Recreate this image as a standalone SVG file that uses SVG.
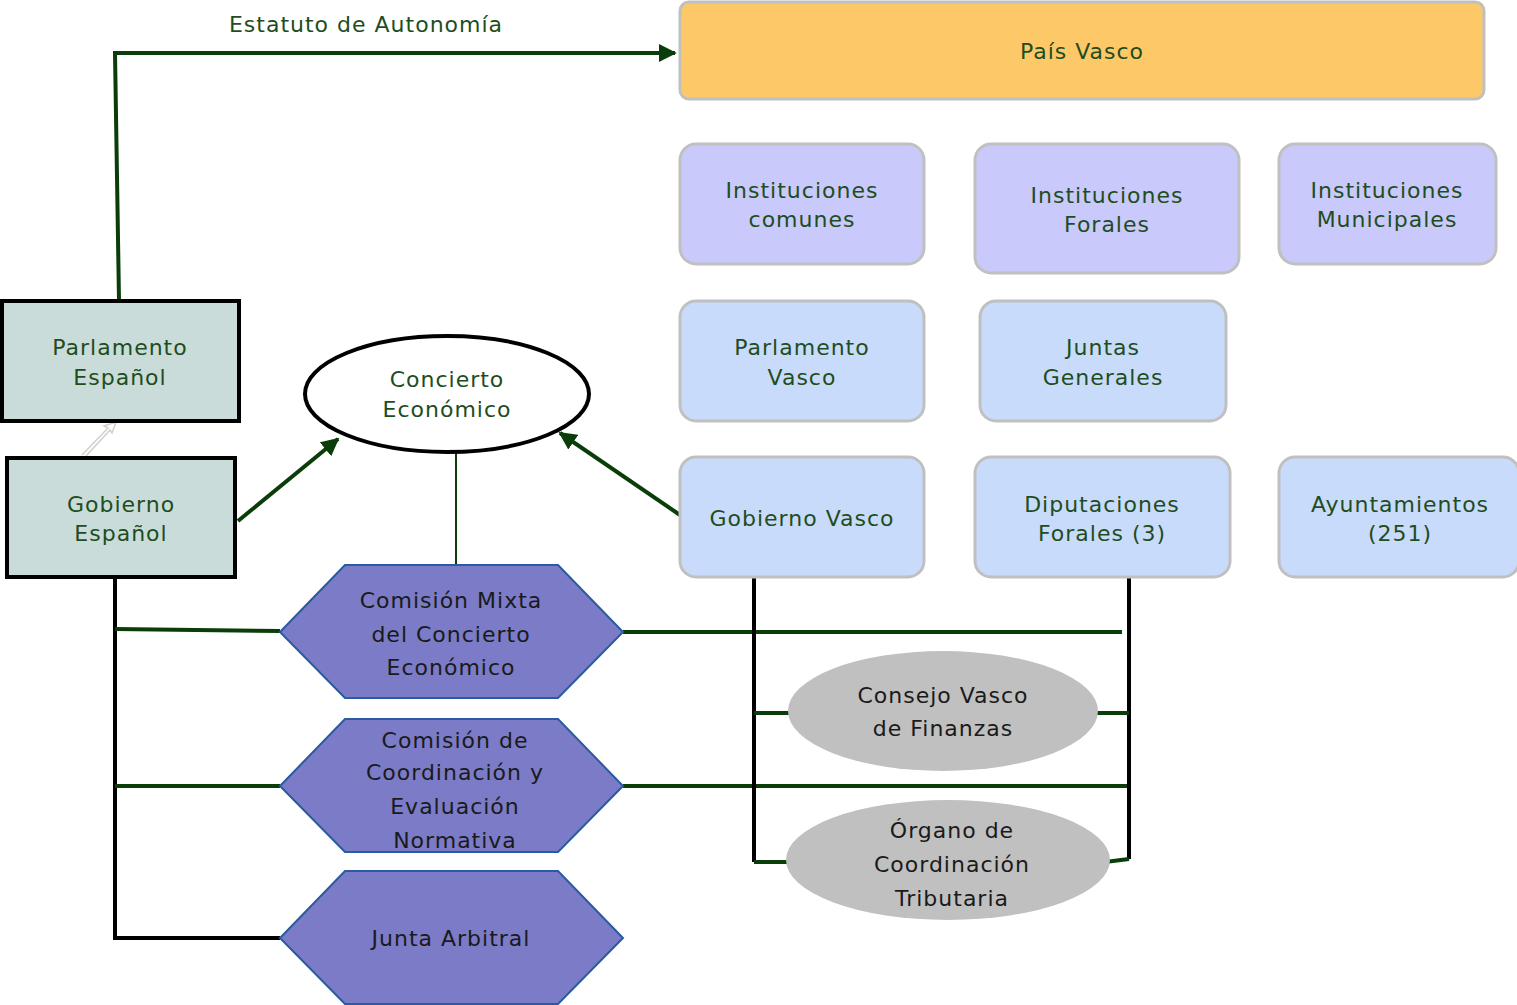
<svg xmlns="http://www.w3.org/2000/svg" width="1517" height="1005" viewBox="0 0 1517 1005">
<defs>
<style>
text{font-family:"DejaVu Sans","Liberation Sans",sans-serif;font-size:22px;letter-spacing:1px;text-anchor:middle;dominant-baseline:central;}
.g{fill:#1e4d1e;}
.k{fill:#1a1a1a;}
.inst{fill:#c9c9fb;stroke:#c0c0c0;stroke-width:3;}
.org{fill:#c9dbfb;stroke:#c0c0c0;stroke-width:3;}
.esp{fill:#c9dcd9;stroke:#000;stroke-width:4;}
.hex{fill:#7b7bc7;stroke:#2a5aa0;stroke-width:2;}
.gray{fill:#c0c0c0;}
.gl{stroke:#0b3d0b;stroke-width:4;fill:none;}
.bl{stroke:#000;stroke-width:4;fill:none;}
</style>
<marker id="ah" viewBox="0 0 10 10" refX="9" refY="5" markerWidth="4.5" markerHeight="4.5" orient="auto" markerUnits="strokeWidth">
<path d="M0,0 L10,5 L0,10 z" fill="#0b3d0b"/>
</marker>
</defs>
<rect width="1517" height="1005" fill="#fff"/>
<g id="connectors">
<polyline class="gl" points="119,300 115,53 675,53" marker-end="url(#ah)"/>
<path d="M82,455 L108,428 L104,426 L116,422 L112,433 L110,430 L86,456" fill="#fff" stroke="#d0d0d0" stroke-width="1.5"/>
<line class="gl" x1="238" y1="521" x2="338" y2="439" marker-end="url(#ah)"/>
<line class="gl" x1="680" y1="515" x2="560" y2="433" marker-end="url(#ah)"/>
<line x1="456" y1="452" x2="456" y2="566" stroke="#0b3d0b" stroke-width="2"/>
<polyline class="bl" points="115,577 115,938 280,938"/>
<line class="gl" x1="115" y1="629" x2="280" y2="631"/>
<line class="gl" x1="115" y1="786" x2="280" y2="786"/>
<line class="gl" x1="623" y1="632" x2="1122" y2="632"/>
<line class="gl" x1="623" y1="786" x2="1130" y2="786"/>
<polyline class="bl" points="754,577 754,862"/>
<line class="gl" x1="754" y1="713" x2="791" y2="713"/>
<line class="gl" x1="754" y1="862" x2="791" y2="862"/>
<polyline class="bl" points="1129,577 1129,859"/>
<line class="gl" x1="1089" y1="713" x2="1129" y2="713"/>
<line class="gl" x1="1105" y1="862" x2="1129" y2="859"/>
</g>
<text class="g" x="366" y="24">Estatuto de Autonomía</text>
<g id="pais-vasco"><rect x="680" y="2" width="804" height="97" rx="9" fill="#fdc968" stroke="#c0c0c0" stroke-width="3"/><text class="g" x="1082" y="51">País Vasco</text></g>
<g id="inst-comunes"><rect class="inst" x="680" y="144" width="244" height="120" rx="16"/><text class="g" x="802" y="190">Instituciones</text><text class="g" x="802" y="219">comunes</text></g>
<g id="inst-forales"><rect class="inst" x="975" y="144" width="264" height="129" rx="16"/><text class="g" x="1107" y="195">Instituciones</text><text class="g" x="1107" y="224">Forales</text></g>
<g id="inst-municipales"><rect class="inst" x="1279" y="144" width="217" height="120" rx="16"/><text class="g" x="1387" y="190">Instituciones</text><text class="g" x="1387" y="219">Municipales</text></g>
<g id="parlamento-vasco"><rect class="org" x="680" y="301" width="244" height="120" rx="16"/><text class="g" x="802" y="347">Parlamento</text><text class="g" x="802" y="377">Vasco</text></g>
<g id="juntas-generales"><rect class="org" x="980" y="301" width="246" height="120" rx="16"/><text class="g" x="1103" y="347">Juntas</text><text class="g" x="1103" y="377">Generales</text></g>
<g id="gobierno-vasco"><rect class="org" x="680" y="457" width="244" height="120" rx="16"/><text class="g" x="802" y="518">Gobierno Vasco</text></g>
<g id="diputaciones"><rect class="org" x="975" y="457" width="255" height="120" rx="16"/><text class="g" x="1102" y="504">Diputaciones</text><text class="g" x="1102" y="533">Forales (3)</text></g>
<g id="ayuntamientos"><rect class="org" x="1279" y="457" width="240" height="120" rx="16"/><text class="g" x="1400" y="504">Ayuntamientos</text><text class="g" x="1400" y="533">(251)</text></g>
<g id="parlamento-espanol"><rect class="esp" x="2" y="301" width="237" height="120"/><text class="g" x="120" y="347">Parlamento</text><text class="g" x="120" y="377">Español</text></g>
<g id="gobierno-espanol"><rect class="esp" x="7" y="458" width="228" height="119"/><text class="g" x="121" y="504">Gobierno</text><text class="g" x="121" y="533">Español</text></g>
<g id="concierto"><ellipse cx="447" cy="394" rx="142" ry="58" fill="#fff" stroke="#000" stroke-width="4"/><text class="g" x="447" y="379">Concierto</text><text class="g" x="447" y="409">Económico</text></g>
<g id="comision-mixta"><polygon class="hex" points="280,632 345,565 558,565 623,632 558,698 345,698"/><text class="k" x="451" y="600">Comisión Mixta</text><text class="k" x="451" y="634">del Concierto</text><text class="k" x="451" y="667">Económico</text></g>
<g id="comision-coordinacion"><polygon class="hex" points="280,786 345,719 558,719 623,786 558,852 345,852"/><text class="k" x="455" y="740">Comisión de</text><text class="k" x="455" y="772">Coordinación y</text><text class="k" x="455" y="806">Evaluación</text><text class="k" x="455" y="840">Normativa</text></g>
<g id="junta-arbitral"><polygon class="hex" points="280,938 345,871 558,871 623,938 558,1004 345,1004"/><text class="k" x="451" y="938">Junta Arbitral</text></g>
<g id="consejo-vasco"><ellipse class="gray" cx="943" cy="711" rx="155" ry="60"/><text class="k" x="943" y="695">Consejo Vasco</text><text class="k" x="943" y="728">de Finanzas</text></g>
<g id="organo"><ellipse class="gray" cx="948" cy="860" rx="162" ry="60"/><text class="k" x="952" y="830">Órgano de</text><text class="k" x="952" y="864">Coordinación</text><text class="k" x="952" y="898">Tributaria</text></g>
</svg>
